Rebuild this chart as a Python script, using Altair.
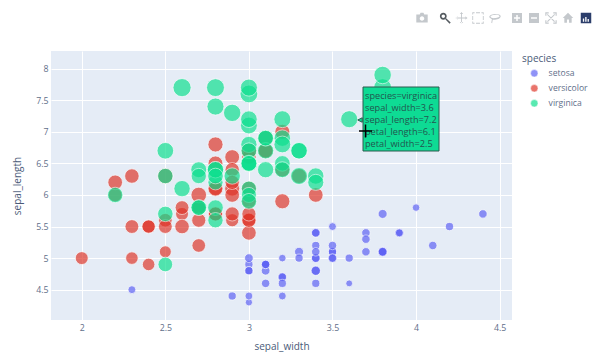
import altair as alt
import pandas as pd

setosa_sl = [5.1,4.9,4.7,4.6,5.0,5.4,4.6,5.0,4.4,4.9,5.4,4.8,4.8,4.3,5.8,5.7,5.4,5.1,5.7,5.1,5.4,5.1,4.6,5.1,4.8,5.0,5.0,5.2,5.2,4.7,4.8,5.4,5.2,5.5,4.9,5.0,5.5,4.9,4.4,5.1,5.0,4.5,4.4,5.0,5.1,4.8,5.1,4.6,5.3,5.0]
setosa_sw = [3.5,3.0,3.2,3.1,3.6,3.9,3.4,3.4,2.9,3.1,3.7,3.4,3.0,3.0,4.0,4.4,3.9,3.5,3.8,3.8,3.4,3.7,3.6,3.3,3.4,3.0,3.4,3.5,3.4,3.2,3.1,3.4,4.1,4.2,3.1,3.2,3.5,3.1,3.0,3.4,3.5,2.3,3.2,3.5,3.8,3.0,3.8,3.2,3.7,3.3]
setosa_pl = [1.4,1.4,1.3,1.5,1.4,1.7,1.4,1.5,1.4,1.5,1.5,1.6,1.4,1.1,1.2,1.5,1.3,1.4,1.7,1.5,1.7,1.5,1.0,1.7,1.9,1.6,1.6,1.5,1.4,1.6,1.6,1.5,1.5,1.4,1.5,1.2,1.3,1.5,1.3,1.5,1.3,1.3,1.3,1.6,1.9,1.4,1.6,1.4,1.5,1.4]
versi_sl = [7.0,6.4,6.9,5.5,6.5,5.7,6.3,4.9,6.6,5.2,5.0,5.9,6.0,6.1,5.6,6.7,5.6,5.8,6.2,5.6,5.9,6.1,6.3,6.1,6.4,6.6,6.8,6.7,6.0,5.7,5.5,5.5,5.8,6.0,5.4,6.0,6.7,6.3,5.6,5.5,5.5,6.1,5.8,5.0,5.6,5.7,5.7,6.2,5.1,5.7]
versi_sw = [3.2,3.2,3.1,2.3,2.8,2.8,3.3,2.4,2.9,2.7,2.0,3.0,2.2,2.9,2.9,3.1,3.0,2.7,2.2,2.5,3.2,2.8,2.5,2.8,2.9,3.0,2.8,3.0,2.9,2.6,2.4,2.4,2.7,2.7,3.0,3.4,3.1,2.3,3.0,2.5,2.6,3.0,2.6,2.3,2.7,3.0,2.9,2.9,2.5,2.8]
versi_pl = [4.7,4.5,4.9,4.0,4.6,4.5,4.7,3.3,4.6,3.9,3.5,4.2,4.0,4.7,3.6,4.4,4.5,4.1,4.5,3.9,4.8,4.0,4.9,4.7,4.3,4.4,4.8,5.0,4.5,3.5,3.8,3.7,3.9,5.1,4.5,4.5,4.7,4.4,4.1,4.0,4.4,4.6,4.0,3.3,4.2,4.2,4.2,4.3,3.0,4.1]
virgi_sl = [6.3,5.8,7.1,6.3,6.5,7.6,4.9,7.3,6.7,7.2,6.5,6.4,6.8,5.7,5.8,6.4,6.5,7.7,7.7,6.0,6.9,5.6,7.7,6.3,6.7,7.2,6.2,6.1,6.4,7.2,7.4,7.9,6.4,6.3,6.1,7.7,6.3,6.4,6.0,6.9,6.7,6.9,5.8,6.8,6.7,6.7,6.3,6.5,6.2,5.9]
virgi_sw = [3.3,2.7,3.0,2.9,3.0,3.0,2.5,2.9,2.5,3.6,3.2,2.7,3.0,2.5,2.8,3.2,3.0,3.8,2.6,2.2,3.2,2.8,2.8,2.7,3.3,3.2,2.8,3.0,2.8,3.0,2.8,3.8,2.8,2.8,2.6,3.0,3.4,3.1,3.0,3.1,3.1,3.1,2.7,3.2,3.3,3.0,2.5,3.0,3.4,3.0]
virgi_pl = [6.0,5.1,5.9,5.6,5.8,6.6,4.5,6.3,5.8,6.1,5.1,5.3,5.5,5.0,5.1,5.3,5.5,6.7,6.9,5.0,5.7,4.9,6.7,4.9,5.7,6.0,4.8,4.9,5.6,5.8,6.1,6.4,5.6,5.1,5.6,6.1,5.6,5.5,4.8,5.4,5.6,5.1,5.1,5.9,5.7,5.2,5.0,5.2,5.4,5.1]
species_names = ["setosa", "versicolor", "virginica"]
species_colors = ["#5b5ff4", "#df3326", "#0adf8d"]
x_ticks = [2, 2.5, 3, 3.5, 4, 4.5]
y_ticks = [4.5, 5, 5.5, 6, 6.5, 7, 7.5, 8]
hover_lines = ["species=virginica", "sepal_width=3.6", "sepal_length=7.2", "petal_length=6.1", "petal_width=2.5"]

FONT = "Open Sans"
INK = "#4a5a78"
TICK = "#5f6f8a"
PX0, PY0 = 51, 51   # plot origin on the page

rows = []
for name, sl, sw, pl in [("setosa", setosa_sl, setosa_sw, setosa_pl),
                         ("versicolor", versi_sl, versi_sw, versi_pl),
                         ("virginica", virgi_sl, virgi_sw, virgi_pl)]:
    rows += [{"species": name, "sepal_length": a, "sepal_width": b, "petal_length": c} for a, b, c in zip(sl, sw, pl)]
iris = pd.DataFrame(rows)
one = pd.DataFrame({"k": [0]})

x_scale = alt.Scale(domain=[1.816, 4.574], nice=False, zero=False)
y_scale = alt.Scale(domain=[4.02, 8.28], nice=False, zero=False)

points = alt.Chart(iris).mark_point(filled=True, opacity=0.68, stroke="white", strokeWidth=0.8).encode(
    x=alt.X("sepal_width:Q", scale=x_scale,
            axis=alt.Axis(values=x_ticks, title="sepal_width", format="~g", labelFlush=False, labelOverlap=False)),
    y=alt.Y("sepal_length:Q", scale=y_scale,
            axis=alt.Axis(values=y_ticks, title="sepal_length", format="~g", labelOverlap=False, titlePadding=13)),
    size=alt.Size("petal_length:Q", scale=alt.Scale(domain=[0, 6.9], range=[0, 330], zero=True), legend=None),
    color=alt.Color("species:N", scale=alt.Scale(domain=species_names, range=species_colors),
                    legend=alt.Legend(orient="none", legendX=471, legendY=3, title="species",
                                      symbolSize=55, symbolType="circle", symbolOpacity=0.68,
                                      symbolStrokeColor="white", symbolStrokeWidth=0.5, symbolOffset=8,
                                      rowPadding=4, labelOffset=10, padding=0)),
)

def pa(v):
    return alt.value(v)

box_fill = "#0edb94"
box_border = "#2c5a4e"
tri_path = "M1,-1L-1,0L1,1Z"
tooltip_layers = [
    alt.Chart(one).mark_point(shape=tri_path, filled=True, fill=box_fill, stroke=box_border,
                              strokeWidth=1, opacity=1, size=20).encode(x=pa(309), y=pa(69)),
    alt.Chart(one).mark_rect(fill=box_fill, stroke=box_border, strokeWidth=1).encode(
        x=pa(312), x2=pa(388), y=pa(36), y2=pa(100)),
]
for line, yy in zip(hover_lines, [45, 56.7, 69, 80.7, 92.7]):
    tooltip_layers.append(
        alt.Chart(pd.DataFrame({"t": [line]})).mark_text(align="left", baseline="middle", font=FONT, fontSize=9.2,
                                                          color="#22564f").encode(
            x=pa(314), y=pa(yy), text="t:N"))

cursor = [
    alt.Chart(one).mark_rule(color="black", strokeWidth=1.5).encode(x=pa(308), x2=pa(321), y=pa(80)),
    alt.Chart(one).mark_rule(color="black", strokeWidth=1.5).encode(x=pa(314.5), y=pa(73.5), y2=pa(86.5)),
]

# Toolbar glyphs
ICON = "#c4c8cc"
square_minus = "M-1,-1H1V1H-1ZM-0.6,-0.15V0.15H0.6V-0.15Z"
square_plus = "M-1,-1H1V1H-1ZM-0.6,-0.15V0.15H-0.15V0.6H0.15V0.15H0.6V-0.15H0.15V-0.6H-0.15V-0.15Z"
camera = "M-1,-0.6H-0.4L-0.25,-0.9H0.25L0.4,-0.6H1V0.8H-1ZM-0.4,0.1A0.4,0.4,0,1,0,0.4,0.1A0.4,0.4,0,1,0,-0.4,0.1Z"
magnifier = "M-0.9,-0.3A0.6,0.6,0,1,1,0.3,-0.3A0.6,0.6,0,1,1,-0.9,-0.3ZM-0.6,-0.3A0.3,0.3,0,1,0,0,-0.3A0.3,0.3,0,1,0,-0.6,-0.3ZM0.2,0.05L0.05,0.2L0.8,1L1,0.8Z"
pan = "M-0.08,-1H0.08V1H-0.08ZM-1,-0.08H1V0.08H-1ZM-0.3,-0.7L0,-1L0.3,-0.7ZM-0.3,0.7L0,1L0.3,0.7ZM-0.7,-0.3L-1,0L-0.7,0.3ZM0.7,-0.3L1,0L0.7,0.3Z"
home = "M0,-1L1,0H0.7V0.9H0.2V0.3H-0.2V0.9H-0.7V0H-1Z"
autoscale = "M-1,-1H-0.4V-0.8H-0.8V-0.4H-1ZM1,-1V-0.4H0.8V-0.8H0.4V-1ZM1,1H0.4V0.8H0.8V0.4H1ZM-1,1V0.4H-0.8V0.8H-0.4V1ZM-0.6,-0.7L0.7,0.55L0.55,0.7L-0.7,-0.55ZM0.6,-0.7L0.7,-0.55L-0.55,0.7L-0.7,0.55Z"
select = "M-1,-1H-0.6V-0.85H-0.85V-0.6H-1ZM-0.35,-1H0.35V-0.85H-0.35ZM0.6,-1H1V-0.6H0.85V-0.85H0.6ZM-1,-0.35H-0.85V0.35H-1ZM0.85,-0.35H1V0.35H0.85ZM-1,0.6H-0.85V0.85H-0.6V1H-1ZM-0.35,0.85H0.35V1H-0.35ZM0.85,0.6H1V1H0.6V0.85H0.85Z"
lasso = "M-1,-0.2C-1,-0.8,1,-0.9,1,-0.3C1,0.2,0,0.4,-0.4,0.3L-0.5,0.9L-0.65,0.85L-0.55,0.2C-0.8,0.1,-1,0,-1,-0.2ZM-0.8,-0.2C-0.7,0.2,0.8,0,0.8,-0.3C0.7,-0.7,-0.8,-0.6,-0.8,-0.2Z"
logo = "M-1,-1H1V1H-1ZM-0.6,0.7H-0.35V0.1H-0.6ZM-0.15,0.7H0.1V-0.2H-0.15ZM0.3,0.7H0.55V0.2H0.3ZM-0.6,-0.6H-0.4V-0.4H-0.6ZM-0.15,-0.6H0.05V-0.4H-0.15ZM0.3,-0.6H0.5V-0.4H0.3Z"
icons = [(camera, 422, ICON, 130), (magnifier, 445, "#555b60", 130), (pan, 461.5, ICON, 130), (select, 478, ICON, 130),
         (lasso, 495, ICON, 130), (square_plus, 517, ICON, 100), (square_minus, 534, ICON, 100), (autoscale, 551, ICON, 130),
         (home, 568, ICON, 110), (logo, 586, "#2c3e6b", 110)]
icon_layers = [
    alt.Chart(one).mark_point(shape=p, filled=True, fill=c, opacity=1, size=s).encode(x=pa(ix - PX0), y=pa(18 - PY0))
    for p, ix, c, s in icons
]

chart = alt.layer(points, *tooltip_layers, *cursor, *icon_layers).resolve_scale(
    color="independent"
).properties(
    width=461, height=269, background="white",
    padding={"left": 43, "top": 43, "right": 80, "bottom": 32},
    autosize=alt.AutoSizeParams(type="none"),
).configure_view(fill="#E5ECF6", stroke=None).configure_axis(
    domain=False, ticks=False, grid=True, gridColor="white", gridWidth=1, gridOpacity=1,
    labelFont=FONT, labelFontSize=8.8, labelColor=TICK, labelPadding=3,
    titleFont=FONT, titleFontSize=10, titleFontWeight="normal", titleColor=INK, titlePadding=10,
).configure_legend(
    labelFont=FONT, labelFontSize=8.6, labelColor=TICK, titleFont=FONT, titleFontSize=10,
    titleFontWeight="normal", titleColor=INK,
)

chart.save("out.html", embed_options={"renderer": "svg", "actions": False})
